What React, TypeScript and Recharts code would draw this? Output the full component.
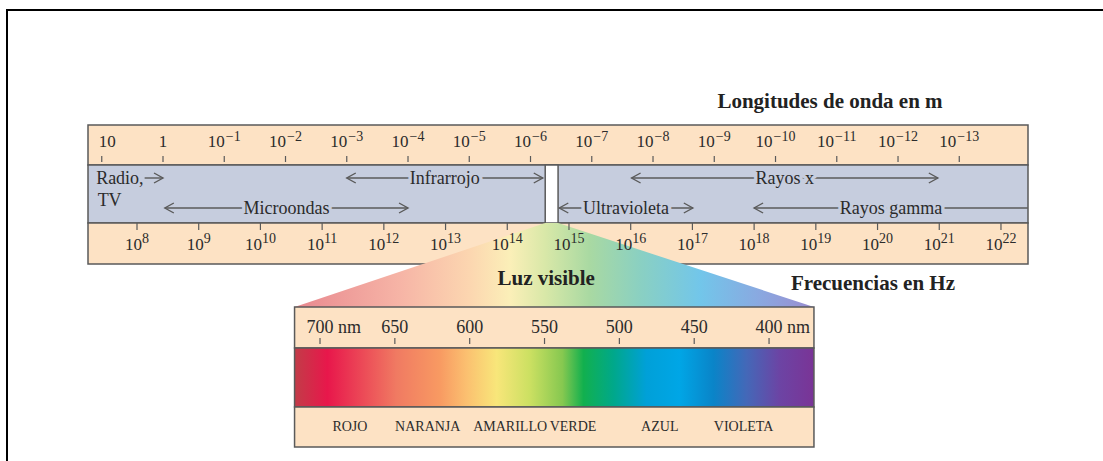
import React from 'react'
import { ComposedChart, XAxis, YAxis, ReferenceArea, ReferenceLine } from 'recharts'

const W = 1103
const H = 461

// top scale: wavelength exponents, 10^n m
const lamExps = [1, 0, -1, -2, -3, -4, -5, -6, -7, -8, -9, -10, -11, -12, -13]
// bottom scale: frequency exponents, 10^n Hz
const freqExps = [8, 9, 10, 11, 12, 13, 14, 15, 16, 17, 18, 19, 20, 21, 22]

// regions on the wavelength scale, in -log10(λ / m)
const regions = [
  { name: 'Radio,', from: -0.3, to: 0, row: 0, left: false, right: true, note: 'TV' },
  { name: 'Infrarrojo', from: 3.0, to: 6.2, row: 0, left: true, right: true },
  { name: 'Rayos x', from: 7.65, to: 12.65, row: 0, left: true, right: true },
  { name: 'Microondas', from: 0.03, to: 4.0, row: 1, left: true, right: true },
  { name: 'Ultravioleta', from: 6.47, to: 8.65, row: 1, left: true, right: true },
  { name: 'Rayos gamma', from: 9.65, to: 14.12, row: 1, left: true, right: false },
]
const visibleSlot = [6.24, 6.45]

// visible light box, nm
const visibleSpan = [717, 370]
const nmTicks = [700, 650, 600, 550, 500, 450, 400]
const colorNames = ['ROJO', 'NARANJA', 'AMARILLO', 'VERDE', 'AZUL', 'VIOLETA']
const colorNameNm = [680, 628, 573, 531, 473, 417]

const spectrumStops = [
  { nm: 717, color: '#c23c48' },
  { nm: 695, color: '#e8174b' },
  { nm: 682, color: '#ea3352' },
  { nm: 649, color: '#f07a62' },
  { nm: 620, color: '#f89a62' },
  { nm: 602, color: '#fbc070' },
  { nm: 582, color: '#f8e67a' },
  { nm: 560, color: '#cce062' },
  { nm: 538, color: '#86c850' },
  { nm: 524, color: '#12b04e' },
  { nm: 504, color: '#00a88a' },
  { nm: 482, color: '#00a0d8' },
  { nm: 460, color: '#00a6e6' },
  { nm: 437, color: '#0a84c8' },
  { nm: 415, color: '#4468b8' },
  { nm: 393, color: '#6c44a4' },
  { nm: 370, color: '#7a3496' },
]
const fanStops = [
  { nm: 717, color: '#e8888f' },
  { nm: 647, color: '#f6b4a6' },
  { nm: 600, color: '#fcd6b0' },
  { nm: 573, color: '#fbefb8' },
  { nm: 550, color: '#d9e8a8' },
  { nm: 520, color: '#a9d9a2' },
  { nm: 486, color: '#8ad0c2' },
  { nm: 446, color: '#72c6ea' },
  { nm: 406, color: '#8aa8e0' },
  { nm: 370, color: '#9a8cd0' },
]

// layout; axes are 1px tall, negative margins keep the plot at 0..H
const M = { top: -1, right: 75, bottom: -3, left: 88 }
const PLOT_W = W - M.left - M.right
const LAM_DOMAIN: [number, number] = [-1.2245, 14.122]
const FREQ_DOMAIN: [number, number] = [7.206, 22.438]
const NM_DOMAIN: [number, number] = [227, 855]
const TOP_BOX = [125, 165, 223, 264]
const VIS_BOX = [307, 348, 407, 447]
const ROW_Y = [178, 208]
const FAN_TOP = 223

const PEACH = '#fde2c4'
const GRAY = '#c6cdde'
const EDGE = '#5a5a5a'
const INK = '#2b2b2b'
const SERIF = '"Liberation Serif", "DejaVu Serif", serif'

const lamPx = (v: number) => M.left + ((v - LAM_DOMAIN[0]) / (LAM_DOMAIN[1] - LAM_DOMAIN[0])) * PLOT_W
const stopOffset = (nm: number) => (visibleSpan[0] - nm) / (visibleSpan[0] - visibleSpan[1])

const LamTick = (p: any) => {
  const exp = -p.payload.value
  return (
    <g>
      <line x1={p.x} x2={p.x} y1={156} y2={162} stroke={EDGE} strokeWidth={1.2} />
      <text
        x={exp === 1 ? p.x - 3 : p.x}
        y={147}
        textAnchor={exp === 1 ? 'start' : 'middle'}
        fontSize={17}
        fill={INK}
        fontFamily={SERIF}
      >
        {exp === 0 ? '1' : '10'}
        {exp < 0 && (
          <tspan dy={-6} dx={1} fontSize={14}>
            {'\u2212' + -exp}
          </tspan>
        )}
      </text>
    </g>
  )
}

const FreqTick = (p: any) => (
  <g>
    <line x1={p.x} x2={p.x} y1={223} y2={230} stroke={EDGE} strokeWidth={1.2} />
    <text x={p.x} y={250} textAnchor="middle" fontSize={17} fill={INK} fontFamily={SERIF}>
      10
      <tspan dy={-7} fontSize={14}>
        {p.payload.value}
      </tspan>
    </text>
  </g>
)

const NmTick = (p: any) => {
  const v = p.payload.value
  const withUnit = v === 700 || v === 400
  return (
    <g>
      <line x1={p.x} x2={p.x} y1={338} y2={344} stroke={EDGE} strokeWidth={1.2} />
      <text
        x={withUnit ? p.x - 13.5 : p.x}
        y={333}
        textAnchor={withUnit ? 'start' : 'middle'}
        fontSize={18}
        fill={INK}
        fontFamily={SERIF}
      >
        {withUnit ? `${v} nm` : `${v}`}
      </text>
    </g>
  )
}

const NameTick = (p: any) => (
  <text x={p.x} y={431} textAnchor="middle" fontSize={14} fill={INK} fontFamily={SERIF}>
    {colorNames[colorNameNm.indexOf(p.payload.value)]}
  </text>
)

const head = (x: number, y: number, dir: number) =>
  `${x - 9 * dir},${y - 5} ${x},${y} ${x - 9 * dir},${y + 5}`

const RangeArrow = (p: any) => {
  const { x1, x2, y1 } = p
  const r = p.region
  const y = y1
  const isRadio = !!r.note
  return (
    <g>
      <line x1={x1} x2={x2} y1={y} y2={y} stroke={EDGE} strokeWidth={1.4} />
      {r.left && <polyline points={head(x1, y, -1)} fill="none" stroke={EDGE} strokeWidth={1.4} />}
      {r.right && <polyline points={head(x2, y, 1)} fill="none" stroke={EDGE} strokeWidth={1.4} />}
      {isRadio ? (
        <>
          <text x={x1 - 1} y={y + 6} textAnchor="end" fontSize={18} fill={INK} fontFamily={SERIF}>
            {r.name}
          </text>
          <text x={x1 - 47} y={y + 28} textAnchor="start" fontSize={18} fill={INK} fontFamily={SERIF}>
            {r.note}
          </text>
        </>
      ) : (
        <text
          x={(x1 + x2) / 2}
          y={y + 6}
          textAnchor="middle"
          fontSize={18}
          fill={INK}
          fontFamily={SERIF}
          stroke={GRAY}
          strokeWidth={7}
          strokeLinejoin="round"
          paintOrder="stroke"
        >
          {r.name}
        </text>
      )}
    </g>
  )
}

const Fan = (p: any) => {
  const left = lamPx(visibleSlot[0])
  const right = lamPx(visibleSlot[1])
  const pts = [
    `${left},${p.y}`,
    `${right},${p.y}`,
    `${p.x + p.width},${p.y + p.height}`,
    `${p.x},${p.y + p.height}`,
  ].join(' ')
  return (
    <g>
      <polygon points={pts} fill="url(#fanGrad)" />
      <text x={left + 1} y={285} textAnchor="middle" fontSize={21} fontWeight="bold" fill="#222" fontFamily={SERIF}>
        Luz visible
      </text>
    </g>
  )
}

const axisCommon = {
  type: 'number' as const,
  height: 1,
  allowDataOverflow: true,
  interval: 0 as const,
  axisLine: false,
  tickLine: false,
}

export default function App() {
  return (
    <div style={{ position: 'absolute', left: 0, top: 0, width: W, height: H, background: '#fff', overflow: 'hidden' }}>
      <div
        style={{
          position: 'absolute',
          left: 6,
          top: 9,
          right: -4,
          bottom: -4,
          borderTop: '2px solid #000',
          borderLeft: '2px solid #000',
        }}
      />
      <div style={{ position: 'absolute', left: 0, top: 0 }}>
        <ComposedChart width={W} height={H} margin={M} data={regions}>
          <defs>
            <linearGradient id="specGrad" x1="0" y1="0" x2="1" y2="0">
              {spectrumStops.map((s) => (
                <stop key={s.nm} offset={stopOffset(s.nm)} stopColor={s.color} />
              ))}
            </linearGradient>
            <linearGradient id="fanGrad" x1="0" y1="0" x2="1" y2="0">
              {fanStops.map((s) => (
                <stop key={s.nm} offset={stopOffset(s.nm)} stopColor={s.color} />
              ))}
            </linearGradient>
          </defs>

          <YAxis yAxisId="px" type="number" domain={[0, H]} reversed hide allowDataOverflow />

          {/* electromagnetic spectrum box */}
          <ReferenceArea xAxisId="lam" yAxisId="px" x1={LAM_DOMAIN[0]} x2={LAM_DOMAIN[1]} y1={TOP_BOX[0]} y2={TOP_BOX[1]} fill={PEACH} fillOpacity={1} stroke={EDGE} strokeWidth={1.5} />
          <ReferenceArea xAxisId="lam" yAxisId="px" x1={LAM_DOMAIN[0]} x2={LAM_DOMAIN[1]} y1={TOP_BOX[1]} y2={TOP_BOX[2]} fill={GRAY} fillOpacity={1} stroke={EDGE} strokeWidth={1.5} />
          <ReferenceArea xAxisId="lam" yAxisId="px" x1={LAM_DOMAIN[0]} x2={LAM_DOMAIN[1]} y1={TOP_BOX[2]} y2={TOP_BOX[3]} fill={PEACH} fillOpacity={1} stroke={EDGE} strokeWidth={1.5} />
          <ReferenceArea xAxisId="lam" yAxisId="px" x1={visibleSlot[0]} x2={visibleSlot[1]} y1={TOP_BOX[1]} y2={TOP_BOX[2]} fill="#ffffff" fillOpacity={1} stroke={EDGE} strokeWidth={1.5} />

          {regions.map((r) => (
            <ReferenceLine
              key={r.name}
              xAxisId="lam"
              yAxisId="px"
              segment={[
                { x: r.from, y: ROW_Y[r.row] },
                { x: r.to, y: ROW_Y[r.row] },
              ]}
              stroke={EDGE}
              shape={(p: any) => <RangeArrow {...p} region={r} />}
            />
          ))}

          {/* fan to the visible band */}
          <ReferenceArea xAxisId="nm" yAxisId="px" x1={visibleSpan[0]} x2={visibleSpan[1]} y1={FAN_TOP} y2={VIS_BOX[0]} shape={(p: any) => <Fan {...p} />} />

          {/* visible light box */}
          <ReferenceArea xAxisId="nm" yAxisId="px" x1={visibleSpan[0]} x2={visibleSpan[1]} y1={VIS_BOX[0]} y2={VIS_BOX[1]} fill={PEACH} fillOpacity={1} stroke={EDGE} strokeWidth={1.5} />
          <ReferenceArea xAxisId="nm" yAxisId="px" x1={visibleSpan[0]} x2={visibleSpan[1]} y1={VIS_BOX[1]} y2={VIS_BOX[2]} fill="url(#specGrad)" fillOpacity={1} stroke={EDGE} strokeWidth={1.5} />
          <ReferenceArea xAxisId="nm" yAxisId="px" x1={visibleSpan[0]} x2={visibleSpan[1]} y1={VIS_BOX[2]} y2={VIS_BOX[3]} fill={PEACH} fillOpacity={1} stroke={EDGE} strokeWidth={1.5} />

          <XAxis {...axisCommon} xAxisId="lam" dataKey="lamValue" orientation="top" domain={LAM_DOMAIN} ticks={lamExps.map((e) => -e)} tick={LamTick} />
          <XAxis {...axisCommon} xAxisId="freq" dataKey="freqValue" orientation="bottom" domain={FREQ_DOMAIN} ticks={freqExps} tick={FreqTick} />
          <XAxis {...axisCommon} xAxisId="nm" dataKey="nmValue" orientation="bottom" domain={NM_DOMAIN} reversed ticks={nmTicks} tick={NmTick} />
          <XAxis {...axisCommon} xAxisId="names" dataKey="nameValue" orientation="bottom" domain={NM_DOMAIN} reversed ticks={colorNameNm} tick={NameTick} />

          <text x={830} y={108} textAnchor="middle" fontSize={21} fontWeight="bold" fill="#222" fontFamily={SERIF}>
            Longitudes de onda en m
          </text>
          <text x={873} y={290} textAnchor="middle" fontSize={21} fontWeight="bold" fill="#222" fontFamily={SERIF}>
            Frecuencias en Hz
          </text>
        </ComposedChart>
      </div>
    </div>
  )
}
